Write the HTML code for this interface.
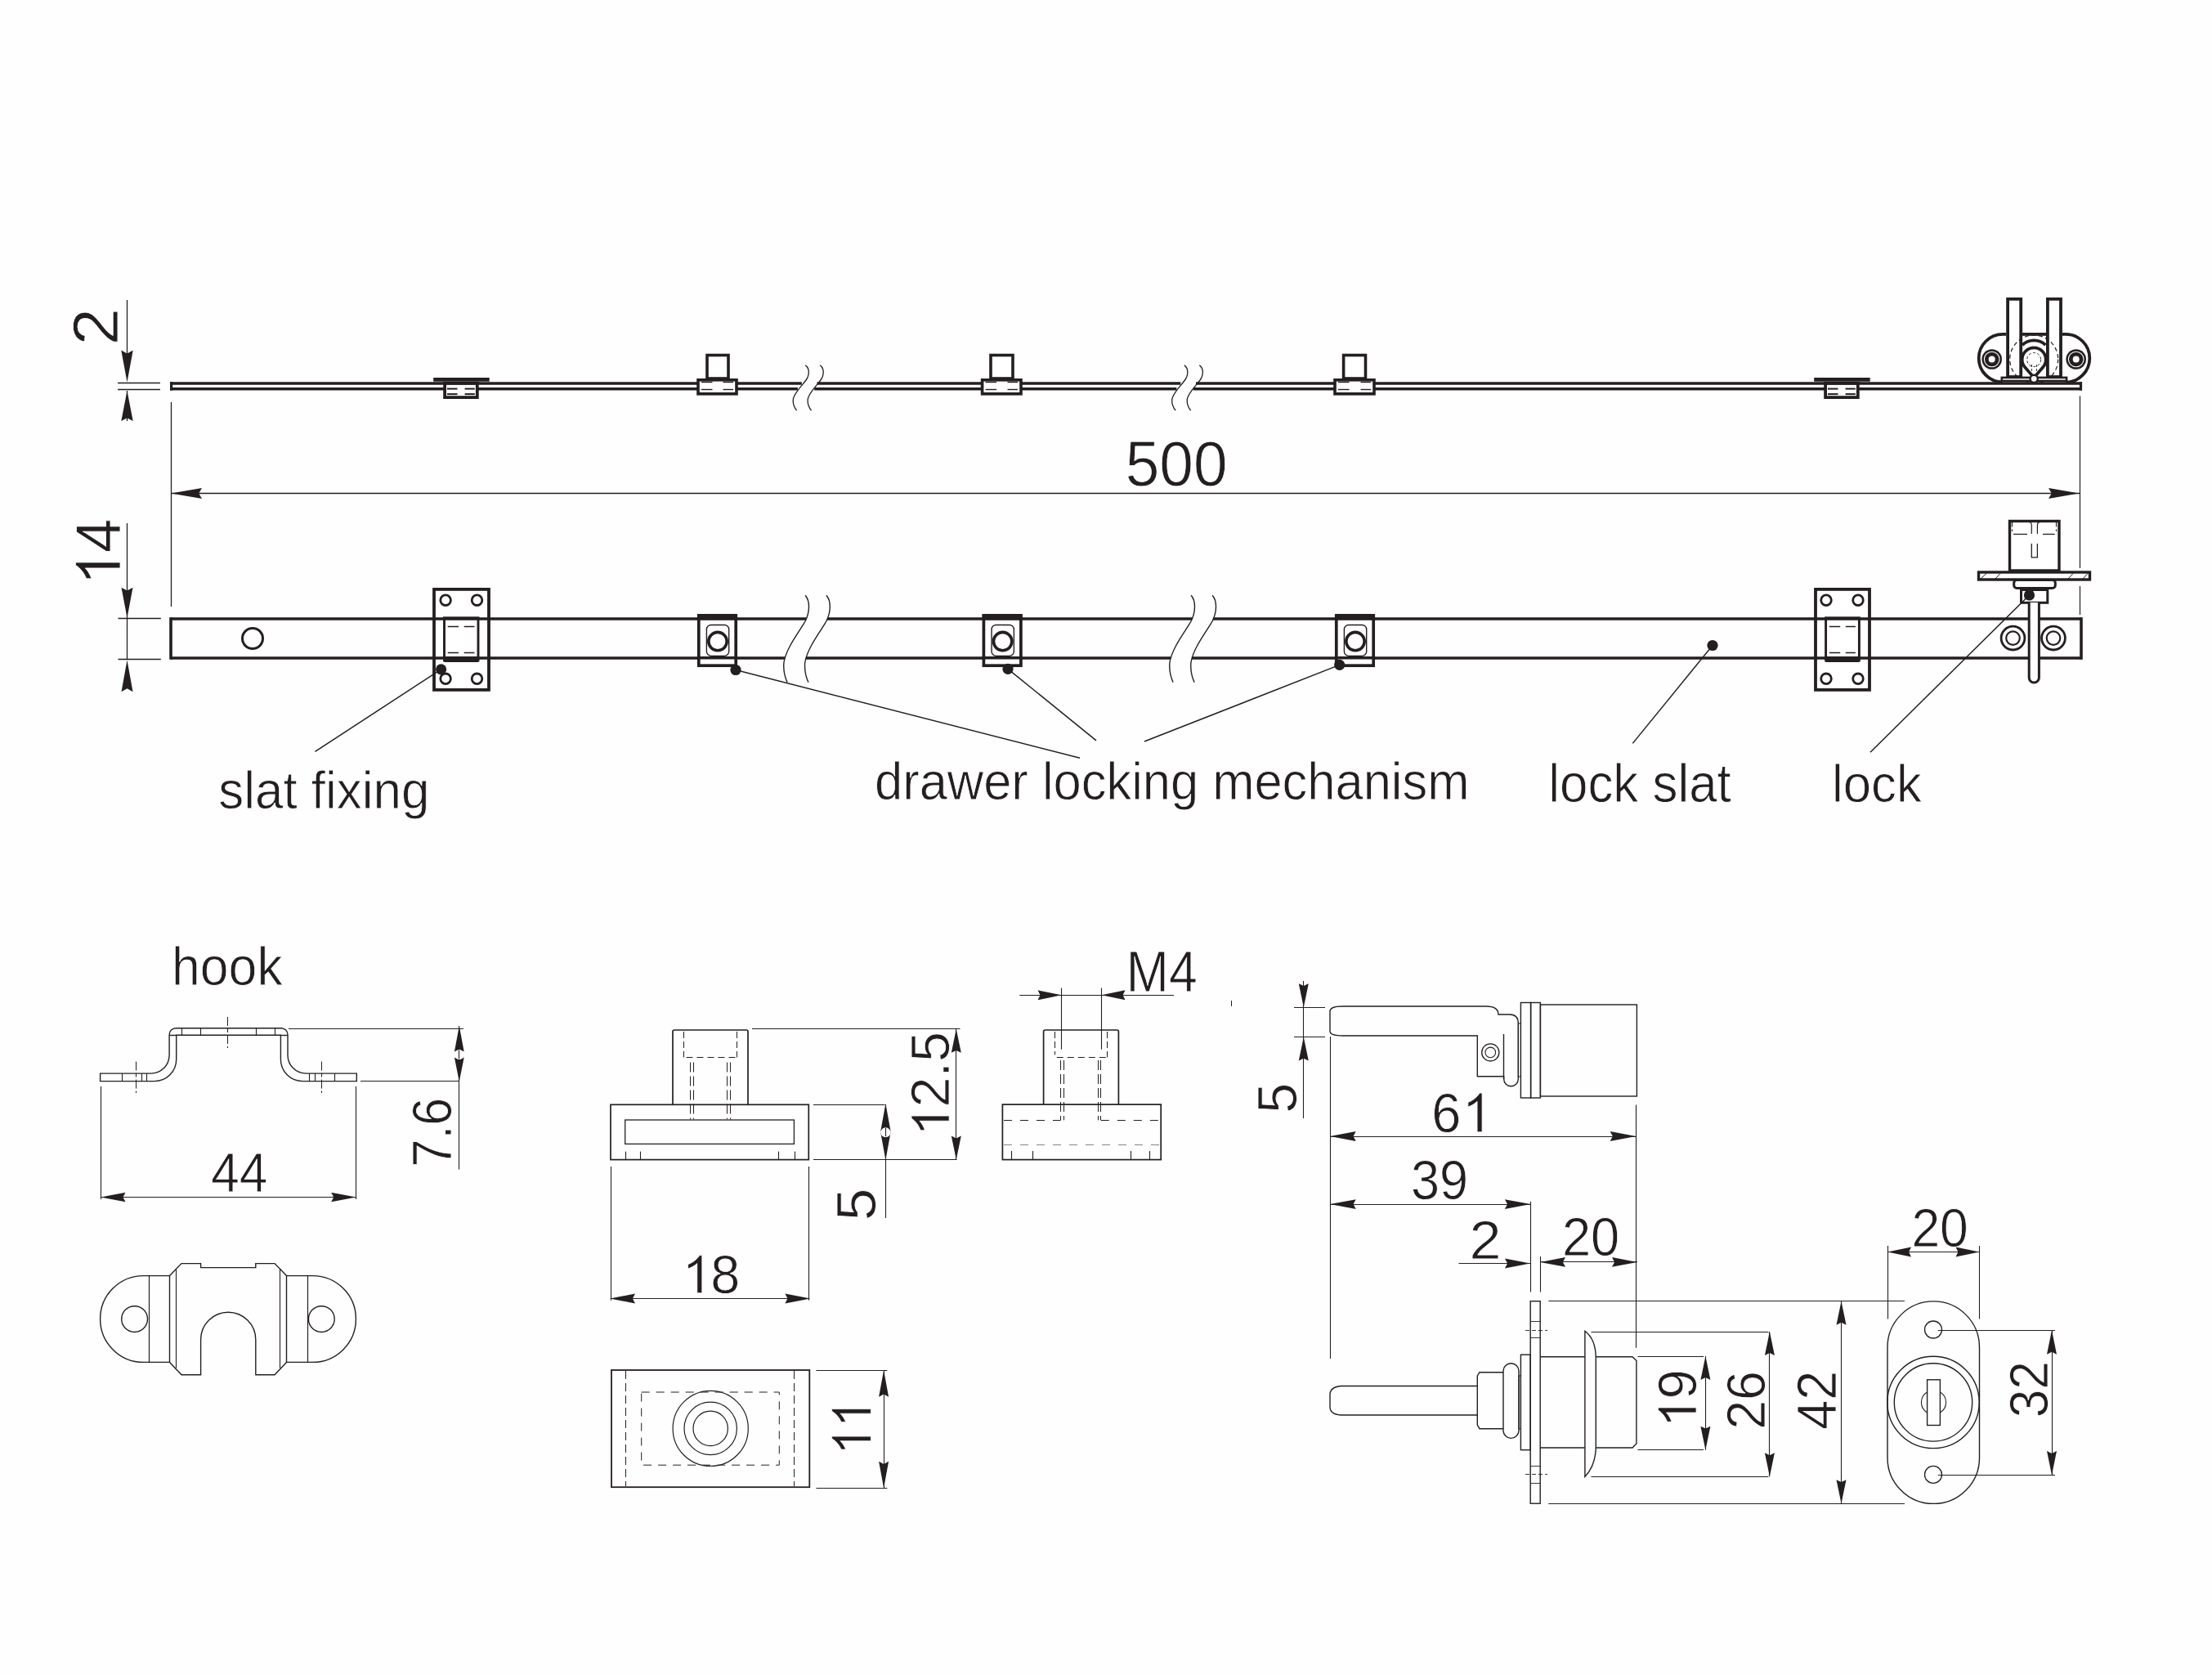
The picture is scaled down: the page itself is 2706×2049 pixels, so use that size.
<!DOCTYPE html>
<html><head><meta charset="utf-8"><style>
html,body{margin:0;padding:0;background:#fefefe;}
svg{display:block;}
text{font-family:"Liberation Sans",sans-serif;fill:#231f20;}
</style></head><body>
<svg width="2706" height="2049" viewBox="0 0 2706 2049" stroke="#231f20" stroke-linecap="butt" fill="none">
<rect x="0" y="0" width="2706" height="2049" fill="#fefefe" stroke="none"/>
<line x1="208" y1="469.0" x2="980.8" y2="469.0" stroke-width="3.6"/>
<line x1="999.5" y1="469.0" x2="1444.3" y2="469.0" stroke-width="3.6"/>
<line x1="1463" y1="469.0" x2="2547" y2="469.0" stroke-width="3.6"/>
<line x1="208" y1="475.8" x2="975.9" y2="475.8" stroke-width="3.6"/>
<line x1="996.2" y1="475.8" x2="1439.4" y2="475.8" stroke-width="3.6"/>
<line x1="1459.7" y1="475.8" x2="2547" y2="475.8" stroke-width="3.6"/>
<line x1="209.6" y1="467.2" x2="209.6" y2="477.6" stroke-width="3.2"/>
<line x1="2545.5" y1="467.2" x2="2545.5" y2="477.6" stroke-width="3.2"/>
<path d="M985.3,446.9 C990,450 991,458 986,465 C981,472 971,481 970.2,489 C970,494 972,499 974.7,502.2" stroke-width="1.3" fill="none" transform="translate(0,0)"/>
<path d="M985.3,446.9 C990,450 991,458 986,465 C981,472 971,481 970.2,489 C970,494 972,499 974.7,502.2" stroke-width="1.3" fill="none" transform="translate(17.9,0)"/>
<path d="M985.3,446.9 C990,450 991,458 986,465 C981,472 971,481 970.2,489 C970,494 972,499 974.7,502.2" stroke-width="1.3" fill="none" transform="translate(463.5,0)"/>
<path d="M985.3,446.9 C990,450 991,458 986,465 C981,472 971,481 970.2,489 C970,494 972,499 974.7,502.2" stroke-width="1.3" fill="none" transform="translate(482.0,0)"/>
<rect x="865" y="434.5" width="26.00" height="28.50" stroke-width="3.6" fill="#fff"/>
<rect x="854" y="464.8" width="47.00" height="17.00" stroke-width="3.6" fill="#fff"/>
<line x1="858" y1="467.5" x2="871.5" y2="467.5" stroke-width="1.4"/>
<line x1="884.5" y1="467.5" x2="897" y2="467.5" stroke-width="1.4"/>
<line x1="858" y1="476.5" x2="871.5" y2="476.5" stroke-width="1.4"/>
<line x1="884.5" y1="476.5" x2="897" y2="476.5" stroke-width="1.4"/>
<rect x="1212" y="434.5" width="27.00" height="28.50" stroke-width="3.6" fill="#fff"/>
<rect x="1201.6" y="464.8" width="47.40" height="17.00" stroke-width="3.6" fill="#fff"/>
<line x1="1205.6" y1="467.5" x2="1219.1" y2="467.5" stroke-width="1.4"/>
<line x1="1232.5" y1="467.5" x2="1245" y2="467.5" stroke-width="1.4"/>
<line x1="1205.6" y1="476.5" x2="1219.1" y2="476.5" stroke-width="1.4"/>
<line x1="1232.5" y1="476.5" x2="1245" y2="476.5" stroke-width="1.4"/>
<rect x="1643.6" y="434.5" width="26.90" height="28.50" stroke-width="3.6" fill="#fff"/>
<rect x="1633" y="464.8" width="48.00" height="17.00" stroke-width="3.6" fill="#fff"/>
<line x1="1637" y1="467.5" x2="1650.5" y2="467.5" stroke-width="1.4"/>
<line x1="1664.5" y1="467.5" x2="1677" y2="467.5" stroke-width="1.4"/>
<line x1="1637" y1="476.5" x2="1650.5" y2="476.5" stroke-width="1.4"/>
<line x1="1664.5" y1="476.5" x2="1677" y2="476.5" stroke-width="1.4"/>
<line x1="530.2" y1="464.3" x2="598.7" y2="464.3" stroke-width="4.7"/>
<rect x="544.1" y="468.8" width="39.70" height="17.30" stroke-width="3.8" fill="#fff"/>
<line x1="542.2" y1="469" x2="585.7" y2="469" stroke-width="3.6"/>
<line x1="547" y1="475.6" x2="559.5" y2="475.6" stroke-width="2.0"/>
<line x1="568.6" y1="475.6" x2="580.8" y2="475.6" stroke-width="2.0"/>
<line x1="547" y1="482.1" x2="559.5" y2="482.1" stroke-width="2.0"/>
<line x1="568.6" y1="482.1" x2="580.8" y2="482.1" stroke-width="2.0"/>
<line x1="2219.2" y1="464.3" x2="2287.7" y2="464.3" stroke-width="4.7"/>
<rect x="2233.1" y="468.8" width="39.70" height="17.30" stroke-width="3.8" fill="#fff"/>
<line x1="2231.2" y1="469" x2="2274.7" y2="469" stroke-width="3.6"/>
<line x1="2236" y1="475.6" x2="2248.5" y2="475.6" stroke-width="2.0"/>
<line x1="2257.6" y1="475.6" x2="2269.8" y2="475.6" stroke-width="2.0"/>
<line x1="2236" y1="482.1" x2="2248.5" y2="482.1" stroke-width="2.0"/>
<line x1="2257.6" y1="482.1" x2="2269.8" y2="482.1" stroke-width="2.0"/>
<circle cx="2488.2" cy="439.5" r="29.5" stroke-width="1.2" fill="none" stroke-dasharray="5,3.5"/>
<path d="M2474,422 A20.9,20.9 0 0 1 2502.4,422" stroke-width="3.8" fill="none"/>
<line x1="2474" y1="408.9" x2="2503" y2="408.9" stroke-width="3.8"/>
<path d="M2488.2,462 L2477.2,449.3 A14.5,14.5 0 1 1 2499.2,449.3 Z" stroke-width="3.7" fill="#fff"/>
<circle cx="2488.2" cy="440" r="8.5" stroke-width="1.0" fill="none" stroke-dasharray="3,2.5"/>
<line x1="2485.5" y1="446" x2="2485.5" y2="458" stroke-width="0.9" stroke-dasharray="3,2"/>
<line x1="2491.5" y1="446" x2="2491.5" y2="458" stroke-width="0.9" stroke-dasharray="3,2"/>
<rect x="2456.1" y="365.8" width="16.10" height="95.20" stroke-width="3.8" fill="none"/>
<rect x="2504.9" y="365.8" width="16.10" height="95.20" stroke-width="3.8" fill="none"/>
<path d="M2454.2,408.9 L2450,408.9 A29.3,29.3 0 0 0 2450,467.5" stroke-width="3.8" fill="none"/>
<path d="M2522.9,408.9 L2527,408.9 A29.3,29.3 0 0 1 2527,467.5" stroke-width="3.8" fill="none"/>
<rect x="2448.8" y="461.9" width="79.30" height="4.10" stroke-width="2.6" fill="#fff"/>
<circle cx="2436.7" cy="439.5" r="12.3" stroke-width="0" fill="#231f20"/>
<circle cx="2436.7" cy="439.5" r="9.3" stroke-width="1.1" fill="none" stroke="#fff"/>
<circle cx="2436.7" cy="439.5" r="4.0" stroke-width="0" fill="#fff"/>
<circle cx="2539.7" cy="439.5" r="12.3" stroke-width="0" fill="#231f20"/>
<circle cx="2539.7" cy="439.5" r="9.3" stroke-width="1.1" fill="none" stroke="#fff"/>
<circle cx="2539.7" cy="439.5" r="4.0" stroke-width="0" fill="#fff"/>
<circle cx="2488.2" cy="463.3" r="4.6" stroke-width="2.4" fill="#fff"/>
<line x1="144" y1="468.5" x2="196" y2="468.5" stroke-width="1.3"/>
<line x1="144" y1="476.5" x2="196" y2="476.5" stroke-width="1.3"/>
<line x1="155.5" y1="367" x2="155.5" y2="440" stroke-width="1.3"/>
<line x1="155.5" y1="478" x2="155.5" y2="515" stroke-width="1.3"/>
<path d="M155.50,467.50 L148.30,428.50 L155.50,432.40 L162.70,428.50 Z" fill="#231f20" stroke="none"/>
<path d="M155.50,478.00 L162.70,515.00 L155.50,511.30 L148.30,515.00 Z" fill="#231f20" stroke="none"/>
<g transform="translate(144.40,422.27) rotate(-90) scale(0.08136,0.07851)"><text x="0" y="0" font-size="1000" stroke="#fefefe" stroke-width="10.2">2</text></g>
<line x1="144.5" y1="756.5" x2="196.8" y2="756.5" stroke-width="1.3"/>
<line x1="144.5" y1="806.5" x2="196.8" y2="806.5" stroke-width="1.3"/>
<line x1="155.5" y1="640" x2="155.5" y2="806" stroke-width="1.3"/>
<path d="M155.50,755.80 L148.50,718.80 L155.50,722.50 L162.50,718.80 Z" fill="#231f20" stroke="none"/>
<path d="M155.50,807.50 L162.50,846.20 L155.50,842.33 L148.50,846.20 Z" fill="#231f20" stroke="none"/>
<g transform="translate(147.00,717.48) rotate(-90) scale(0.07449,0.07786)"><path d="M266,-700 L266,0 L173,0 L173,-549 C130,-507 60,-469 0,-450 L0,-531 C90,-565 170,-622 221,-700 Z" transform="translate(130.0,0)" fill="#231f20" stroke="#fefefe" stroke-width="10.3"/><text x="556.2" y="0" font-size="1000" stroke="#fefefe" stroke-width="10.3">4</text></g>
<line x1="209.5" y1="492" x2="209.5" y2="742" stroke-width="1.3"/>
<line x1="209" y1="603.5" x2="2544" y2="603.5" stroke-width="1.3"/>
<path d="M209.00,603.50 L247.00,596.90 L243.20,603.50 L247.00,610.10 Z" fill="#231f20" stroke="none"/>
<path d="M2544.00,603.50 L2506.00,610.10 L2509.80,603.50 L2506.00,596.90 Z" fill="#231f20" stroke="none"/>
<g transform="translate(1376.71,594.12) scale(0.07483,0.07825)"><text x="0" y="0" font-size="1000" stroke="#fefefe" stroke-width="10.2">500</text></g>
<line x1="209" y1="757" x2="986.3" y2="757" stroke-width="3.6"/>
<line x1="1012" y1="757" x2="1458.3" y2="757" stroke-width="3.6"/>
<line x1="1484" y1="757" x2="2546" y2="757" stroke-width="3.6"/>
<line x1="209" y1="805" x2="960.1" y2="805" stroke-width="3.6"/>
<line x1="985.9" y1="805" x2="1432.1" y2="805" stroke-width="3.6"/>
<line x1="1457.9" y1="805" x2="2546" y2="805" stroke-width="3.6"/>
<line x1="209" y1="755.2" x2="209" y2="806.8" stroke-width="3.6"/>
<line x1="2546" y1="755.2" x2="2546" y2="806.8" stroke-width="3.6"/>
<path d="M985.1,728.2 C991,735 991,748 985,760 C979,771 962,792 959,810 C958,820 960,828 963.1,834.6" stroke-width="1.4" fill="none" transform="translate(0,0)"/>
<path d="M985.1,728.2 C991,735 991,748 985,760 C979,771 962,792 959,810 C958,820 960,828 963.1,834.6" stroke-width="1.4" fill="none" transform="translate(25.8,0)"/>
<path d="M985.1,728.2 C991,735 991,748 985,760 C979,771 962,792 959,810 C958,820 960,828 963.1,834.6" stroke-width="1.4" fill="none" transform="translate(472,0)"/>
<path d="M985.1,728.2 C991,735 991,748 985,760 C979,771 962,792 959,810 C958,820 960,828 963.1,834.6" stroke-width="1.4" fill="none" transform="translate(498,0)"/>
<circle cx="309" cy="781" r="12.5" stroke-width="3.0" fill="none"/>
<rect x="531" y="720.9" width="67.00" height="123.00" stroke-width="3.8" fill="#fff"/>
<line x1="531" y1="757" x2="598" y2="757" stroke-width="3.6"/>
<line x1="531" y1="805" x2="598" y2="805" stroke-width="3.6"/>
<rect x="543.5" y="755.8" width="41.50" height="52.20" stroke-width="2.9" fill="none"/>
<line x1="543.5" y1="806.4" x2="585" y2="806.4" stroke-width="7.0"/>
<line x1="547.7" y1="766.5" x2="561.1" y2="766.5" stroke-width="1.5"/>
<line x1="567.7" y1="766.5" x2="580.5" y2="766.5" stroke-width="1.5"/>
<line x1="547.7" y1="798.5" x2="561.1" y2="798.5" stroke-width="1.5"/>
<line x1="567.7" y1="798.5" x2="580.5" y2="798.5" stroke-width="1.5"/>
<circle cx="545.1" cy="734.2" r="6.3" stroke-width="2.8" fill="none"/>
<circle cx="545.1" cy="830.3" r="6.3" stroke-width="2.8" fill="none"/>
<circle cx="583.5" cy="734.2" r="6.3" stroke-width="2.8" fill="none"/>
<circle cx="583.5" cy="830.3" r="6.3" stroke-width="2.8" fill="none"/>
<rect x="2221" y="720.9" width="66.00" height="123.00" stroke-width="3.8" fill="#fff"/>
<line x1="2221" y1="757" x2="2287" y2="757" stroke-width="3.6"/>
<line x1="2221" y1="805" x2="2287" y2="805" stroke-width="3.6"/>
<rect x="2233.6" y="755.8" width="40.80" height="52.20" stroke-width="2.9" fill="none"/>
<line x1="2233.6" y1="806.4" x2="2274.4" y2="806.4" stroke-width="7.0"/>
<line x1="2237.7999999999997" y1="766.5" x2="2251.2" y2="766.5" stroke-width="1.5"/>
<line x1="2257.7999999999997" y1="766.5" x2="2269.9" y2="766.5" stroke-width="1.5"/>
<line x1="2237.7999999999997" y1="798.5" x2="2251.2" y2="798.5" stroke-width="1.5"/>
<line x1="2257.7999999999997" y1="798.5" x2="2269.9" y2="798.5" stroke-width="1.5"/>
<circle cx="2234" cy="734.2" r="6.3" stroke-width="2.8" fill="none"/>
<circle cx="2234" cy="830.3" r="6.3" stroke-width="2.8" fill="none"/>
<circle cx="2273" cy="734.2" r="6.3" stroke-width="2.8" fill="none"/>
<circle cx="2273" cy="830.3" r="6.3" stroke-width="2.8" fill="none"/>
<rect x="854.8" y="753.5" width="45.40" height="60.70" stroke-width="3.7" fill="#fff"/>
<rect x="852.95" y="751" width="49.10" height="7.8" fill="#231f20" stroke="none"/>
<line x1="853" y1="804.7" x2="902" y2="804.7" stroke-width="3.6"/>
<rect x="864.4" y="764.5" width="27.3" height="37.9" rx="5.5" stroke-width="1.4" fill="none"/>
<circle cx="878.0" cy="784.6" r="11.2" stroke-width="3.6" fill="none"/>
<rect x="1203.3999999999999" y="753.5" width="45.50" height="60.70" stroke-width="3.7" fill="#fff"/>
<rect x="1201.55" y="751" width="49.20" height="7.8" fill="#231f20" stroke="none"/>
<line x1="1201.6" y1="804.7" x2="1250.7" y2="804.7" stroke-width="3.6"/>
<rect x="1213.0500000000002" y="764.5" width="27.3" height="37.9" rx="5.5" stroke-width="1.4" fill="none"/>
<circle cx="1226.65" cy="784.6" r="11.2" stroke-width="3.6" fill="none"/>
<rect x="1634.8" y="753.5" width="45.40" height="60.70" stroke-width="3.7" fill="#fff"/>
<rect x="1632.95" y="751" width="49.10" height="7.8" fill="#231f20" stroke="none"/>
<line x1="1633" y1="804.7" x2="1682" y2="804.7" stroke-width="3.6"/>
<rect x="1644.4" y="764.5" width="27.3" height="37.9" rx="5.5" stroke-width="1.4" fill="none"/>
<circle cx="1658.0" cy="784.6" r="11.2" stroke-width="3.6" fill="none"/>
<circle cx="2462.5" cy="780.6" r="14.4" stroke-width="2.8" fill="none"/>
<circle cx="2462.5" cy="780.6" r="8.3" stroke-width="2.2" fill="none"/>
<circle cx="2512" cy="780.6" r="14.4" stroke-width="2.8" fill="none"/>
<circle cx="2512" cy="780.6" r="8.3" stroke-width="2.2" fill="none"/>
<rect x="2458.5" y="637.5" width="60.50" height="60.50" stroke-width="3.4" fill="#fff"/>
<line x1="2461.5" y1="638.5" x2="2461.5" y2="650" stroke-width="1.1" stroke-dasharray="6,3"/>
<line x1="2515.5" y1="638.5" x2="2515.5" y2="650" stroke-width="1.1" stroke-dasharray="6,3"/>
<line x1="2463" y1="653.5" x2="2480" y2="653.5" stroke-width="1.3"/>
<line x1="2499" y1="653.5" x2="2513.7" y2="653.5" stroke-width="1.3"/>
<path d="M2485.3,653 L2485.3,642 Q2485.3,639 2482,638.5 M2492.4,653 L2492.4,642 Q2492.4,639 2495.5,638.5" stroke-width="1.2" fill="none"/>
<path d="M2485.3,665 L2485.3,681.8 L2492.4,681.8 L2492.4,665" stroke-width="1.3" fill="none"/>
<rect x="2420.5" y="700" width="136.00" height="9.00" stroke-width="3.4" fill="#fff"/>
<line x1="2423" y1="708" x2="2430" y2="701.5" stroke-width="1.0"/>
<line x1="2441" y1="708" x2="2447" y2="701.5" stroke-width="1.0"/>
<line x1="2530" y1="708" x2="2536" y2="701.5" stroke-width="1.0"/>
<line x1="2548" y1="708" x2="2554" y2="701.5" stroke-width="1.0"/>
<rect x="2463.7" y="709.5" width="50.6" height="10" rx="3.5" stroke-width="3.0" fill="#fff"/>
<rect x="2472.5" y="721.5" width="32.30" height="15.80" stroke-width="3.0" fill="#fff"/>
<path d="M2482.2,737 L2482.2,829 A6.1,6.1 0 0 0 2494.4,829 L2494.4,737" stroke-width="3.0" fill="#fff"/>
<line x1="2544.5" y1="484.5" x2="2544.5" y2="695" stroke-width="1.2"/>
<line x1="2544.5" y1="717" x2="2544.5" y2="752" stroke-width="1.2"/>
<line x1="539.6" y1="818.8" x2="385.5" y2="919.3" stroke-width="1.5"/>
<circle cx="539.6" cy="818.8" r="6.6" fill="#231f20" stroke="none"/>
<line x1="900" y1="819.5" x2="1321" y2="927.3" stroke-width="1.5"/>
<circle cx="900" cy="819.5" r="6.6" fill="#231f20" stroke="none"/>
<line x1="1233" y1="818.3" x2="1341" y2="905.8" stroke-width="1.5"/>
<circle cx="1233" cy="818.3" r="6.6" fill="#231f20" stroke="none"/>
<line x1="1638.7" y1="813.4" x2="1400" y2="907" stroke-width="1.5"/>
<circle cx="1638.7" cy="813.4" r="6.6" fill="#231f20" stroke="none"/>
<line x1="2095" y1="789.5" x2="1997.3" y2="909.4" stroke-width="1.5"/>
<circle cx="2095" cy="789.5" r="6.6" fill="#231f20" stroke="none"/>
<line x1="2482.5" y1="728" x2="2288" y2="920.2" stroke-width="1.5"/>
<circle cx="2482.5" cy="728" r="6.6" fill="#231f20" stroke="none"/>
<g transform="translate(267.27,988.80) scale(0.06192,0.06510)"><text x="0" y="0" font-size="1000" stroke="#fefefe" stroke-width="12.3">slat fixing</text></g>
<g transform="translate(1070.02,978.00) scale(0.06145,0.06538)"><text x="0" y="0" font-size="1000" stroke="#fefefe" stroke-width="12.2">drawer locking mechanism</text></g>
<g transform="translate(1894.25,980.70) scale(0.06190,0.06607)"><text x="0" y="0" font-size="1000" stroke="#fefefe" stroke-width="12.1">lock slat</text></g>
<g transform="translate(2240.96,981.00) scale(0.06174,0.06400)"><text x="0" y="0" font-size="1000" stroke="#fefefe" stroke-width="12.5">lock</text></g>
<g transform="translate(210.09,1204.60) scale(0.06252,0.06621)"><text x="0" y="0" font-size="1000" stroke="#fefefe" stroke-width="12.1">hook</text></g>
<path d="M122.6,1313.1 L184.7,1313.1 A22.4,22.4 0 0 0 207.1,1290.7 L207.1,1265.8 A8.1,8.1 0 0 1 215.2,1257.7 L343.9,1257.7 A8.1,8.1 0 0 1 352,1265.8 L352,1290.7 A22.4,22.4 0 0 0 374.4,1313.1 L436.3,1313.1 L436.3,1322.6 L370,1322.6 A26.6,26.6 0 0 1 343.4,1296 L343.4,1266.3 L215.7,1266.3 L215.7,1296 A26.6,26.6 0 0 1 189.1,1322.6 L122.6,1322.6 Z" stroke-width="1.4" fill="none"/>
<line x1="207.1" y1="1266.5" x2="215.7" y2="1266.5" stroke-width="1.4"/>
<line x1="343.4" y1="1266.5" x2="352" y2="1266.5" stroke-width="1.4"/>
<line x1="149.5" y1="1313.1" x2="149.5" y2="1322.6" stroke-width="1.1"/>
<line x1="173.5" y1="1313.1" x2="173.5" y2="1322.6" stroke-width="1.1"/>
<line x1="179.5" y1="1313.1" x2="179.5" y2="1322.6" stroke-width="1.1"/>
<line x1="378.5" y1="1313.1" x2="378.5" y2="1322.6" stroke-width="1.1"/>
<line x1="385.5" y1="1313.1" x2="385.5" y2="1322.6" stroke-width="1.1"/>
<line x1="409.5" y1="1313.1" x2="409.5" y2="1322.6" stroke-width="1.1"/>
<line x1="222.5" y1="1257.7" x2="222.5" y2="1266.3" stroke-width="1.1"/>
<line x1="245.5" y1="1257.7" x2="245.5" y2="1266.3" stroke-width="1.1"/>
<line x1="313.5" y1="1257.7" x2="313.5" y2="1266.3" stroke-width="1.1"/>
<line x1="336.5" y1="1257.7" x2="336.5" y2="1266.3" stroke-width="1.1"/>
<line x1="278.5" y1="1244" x2="278.5" y2="1282" stroke-width="1.0" stroke-dasharray="11,3,5,3"/>
<line x1="166.5" y1="1298.6" x2="166.5" y2="1337" stroke-width="1.0" stroke-dasharray="11,3,5,3"/>
<line x1="393.5" y1="1298.6" x2="393.5" y2="1337" stroke-width="1.0" stroke-dasharray="11,3,5,3"/>
<line x1="123.5" y1="1329" x2="123.5" y2="1467" stroke-width="1.1"/>
<line x1="435.5" y1="1329" x2="435.5" y2="1467" stroke-width="1.1"/>
<line x1="123" y1="1464.5" x2="435.7" y2="1464.5" stroke-width="1.1"/>
<path d="M123.00,1464.50 L153.50,1458.70 L150.45,1464.50 L153.50,1470.30 Z" fill="#231f20" stroke="none"/>
<path d="M435.70,1464.50 L405.20,1470.30 L408.25,1464.50 L405.20,1458.70 Z" fill="#231f20" stroke="none"/>
<g transform="translate(258.17,1458.20) scale(0.06208,0.06860)"><text x="0" y="0" font-size="1000" stroke="#fefefe" stroke-width="11.7">44</text></g>
<line x1="353" y1="1258.5" x2="567" y2="1258.5" stroke-width="1.1"/>
<line x1="441" y1="1322.5" x2="562" y2="1322.5" stroke-width="1.1"/>
<line x1="561.5" y1="1255" x2="561.5" y2="1430.6" stroke-width="1.1"/>
<path d="M561.80,1255.00 L567.70,1286.60 L561.80,1283.44 L555.90,1286.60 Z" fill="#231f20" stroke="none"/>
<path d="M561.80,1323.00 L555.90,1293.50 L561.80,1296.45 L567.70,1293.50 Z" fill="#231f20" stroke="none"/>
<circle cx="561.8" cy="1290.2" r="5.8" stroke-width="0" fill="#fefefe"/>
<line x1="561.5" y1="1285" x2="561.5" y2="1295.4" stroke-width="1.1"/>
<g transform="translate(551.72,1427.40) rotate(-90) scale(0.06085,0.06808)"><text x="0" y="0" font-size="1000" stroke="#fefefe" stroke-width="11.8">7.6</text></g>
<path d="M207.6,1560.6 L175.5,1560.6 A52.9,52.9 0 0 0 175.5,1666.4 L207.6,1666.4 L222,1681.7 L245.6,1681.7 L245.6,1638.8 A33.6,33.6 0 0 1 312.8,1638.8 L312.8,1681.7 L336,1681.7 L350.5,1666.4 L382.5,1666.4 A52.9,52.9 0 0 0 382.5,1560.6 L350.5,1560.6 L336,1545.6 L312.8,1545.6 L312.8,1550.6 L245.6,1550.6 L245.6,1545.6 L222,1545.6 Z" stroke-width="1.4" fill="none"/>
<line x1="182.5" y1="1560.6" x2="182.5" y2="1666.4" stroke-width="1.2"/>
<line x1="207.5" y1="1560.6" x2="207.5" y2="1666.4" stroke-width="1.4"/>
<line x1="215.5" y1="1553" x2="215.5" y2="1673.5" stroke-width="1.1"/>
<line x1="342.5" y1="1553" x2="342.5" y2="1673.5" stroke-width="1.1"/>
<line x1="350.5" y1="1560.6" x2="350.5" y2="1666.4" stroke-width="1.4"/>
<line x1="376.5" y1="1560.6" x2="376.5" y2="1666.4" stroke-width="1.2"/>
<circle cx="164.6" cy="1613.6" r="15.9" stroke-width="1.4" fill="none"/>
<circle cx="393.3" cy="1613.6" r="15.9" stroke-width="1.4" fill="none"/>
<path d="M823,1351.3 L823,1262 Q823,1260 825,1260 L913,1260 Q915,1260 915,1262 L915,1351.3" stroke-width="1.7" fill="none"/>
<line x1="836.5" y1="1262" x2="836.5" y2="1293.5" stroke-width="1.0" stroke-dasharray="8,4"/>
<line x1="901.5" y1="1262" x2="901.5" y2="1293.5" stroke-width="1.0" stroke-dasharray="8,4"/>
<line x1="839.5" y1="1293.5" x2="901.3" y2="1293.5" stroke-width="1.0" stroke-dasharray="8,5"/>
<line x1="844.5" y1="1299.5" x2="844.5" y2="1369" stroke-width="1.0" stroke-dasharray="12,5"/>
<line x1="848.5" y1="1299.5" x2="848.5" y2="1369" stroke-width="1.0" stroke-dasharray="12,5"/>
<line x1="889.5" y1="1299.5" x2="889.5" y2="1369" stroke-width="1.0" stroke-dasharray="12,5"/>
<line x1="893.5" y1="1299.5" x2="893.5" y2="1369" stroke-width="1.0" stroke-dasharray="12,5"/>
<rect x="747" y="1351.3" width="242.30" height="67.30" stroke-width="1.7" fill="none"/>
<rect x="764.7" y="1370" width="206.70" height="29.40" stroke-width="1.3" fill="none"/>
<line x1="765.5" y1="1408.6" x2="765.5" y2="1418.6" stroke-width="1.1"/>
<line x1="783.5" y1="1408.6" x2="783.5" y2="1418.6" stroke-width="1.1"/>
<line x1="952.5" y1="1408.6" x2="952.5" y2="1418.6" stroke-width="1.1"/>
<line x1="972.5" y1="1408.6" x2="972.5" y2="1418.6" stroke-width="1.1"/>
<line x1="920" y1="1258.5" x2="1174.5" y2="1258.5" stroke-width="1.1"/>
<line x1="995" y1="1418.5" x2="1170.6" y2="1418.5" stroke-width="1.1"/>
<line x1="1169.5" y1="1258.8" x2="1169.5" y2="1418.6" stroke-width="1.1"/>
<path d="M1169.80,1258.80 L1175.80,1287.80 L1169.80,1284.90 L1163.80,1287.80 Z" fill="#231f20" stroke="none"/>
<path d="M1169.80,1418.60 L1163.80,1389.60 L1169.80,1392.50 L1175.80,1389.60 Z" fill="#231f20" stroke="none"/>
<g transform="translate(1161.14,1391.32) rotate(-90) scale(0.06634,0.06592)"><path d="M266,-700 L266,0 L173,0 L173,-549 C130,-507 60,-469 0,-450 L0,-531 C90,-565 170,-622 221,-700 Z" transform="translate(130.0,0)" fill="#231f20" stroke="#fefefe" stroke-width="12.1"/><text x="556.2" y="0" font-size="1000" stroke="#fefefe" stroke-width="12.1">2</text><text x="1112.3" y="0" font-size="1000" stroke="#fefefe" stroke-width="12.1">.</text><text x="1390.1" y="0" font-size="1000" stroke="#fefefe" stroke-width="12.1">5</text></g>
<line x1="995" y1="1351.5" x2="1082.6" y2="1351.5" stroke-width="1.1"/>
<line x1="1083.5" y1="1351" x2="1083.5" y2="1490" stroke-width="1.1"/>
<path d="M1083.40,1350.00 L1089.60,1384.00 L1083.40,1380.60 L1077.20,1384.00 Z" fill="#231f20" stroke="none"/>
<path d="M1083.40,1419.00 L1077.20,1385.00 L1083.40,1388.40 L1089.60,1385.00 Z" fill="#231f20" stroke="none"/>
<circle cx="1083.4" cy="1385.2" r="6" stroke-width="0" fill="#fefefe"/>
<line x1="1083.5" y1="1379.8" x2="1083.5" y2="1390.2" stroke-width="1.1"/>
<g transform="translate(1070.51,1493.25) rotate(-90) scale(0.07131,0.06891)"><text x="0" y="0" font-size="1000" stroke="#fefefe" stroke-width="11.6">5</text></g>
<line x1="747.5" y1="1427" x2="747.5" y2="1590.7" stroke-width="1.1"/>
<line x1="989.5" y1="1427" x2="989.5" y2="1590.7" stroke-width="1.1"/>
<line x1="747.6" y1="1588.5" x2="989.8" y2="1588.5" stroke-width="1.1"/>
<path d="M746.00,1588.50 L777.00,1582.50 L773.90,1588.50 L777.00,1594.50 Z" fill="#231f20" stroke="none"/>
<path d="M991.40,1588.50 L960.40,1594.50 L963.50,1588.50 L960.40,1582.50 Z" fill="#231f20" stroke="none"/>
<g transform="translate(833.18,1581.74) scale(0.06474,0.06592)"><path d="M266,-700 L266,0 L173,0 L173,-549 C130,-507 60,-469 0,-450 L0,-531 C90,-565 170,-622 221,-700 Z" transform="translate(130.0,0)" fill="#231f20" stroke="#fefefe" stroke-width="12.1"/><text x="556.2" y="0" font-size="1000" stroke="#fefefe" stroke-width="12.1">8</text></g>
<path d="M1276.6,1351.1 L1276.6,1262 Q1276.6,1260 1278.6,1260 L1366.4,1260 Q1368.4,1260 1368.4,1262 L1368.4,1351.1" stroke-width="1.7" fill="none"/>
<rect x="1226.4" y="1351.1" width="193.80" height="67.50" stroke-width="1.7" fill="none"/>
<line x1="1290.5" y1="1262" x2="1290.5" y2="1290.4" stroke-width="1.0" stroke-dasharray="8,4"/>
<line x1="1354.5" y1="1262" x2="1354.5" y2="1293.4" stroke-width="1.0" stroke-dasharray="8,4"/>
<line x1="1292.8" y1="1293.5" x2="1354.7" y2="1293.5" stroke-width="1.0" stroke-dasharray="8,5"/>
<line x1="1297.5" y1="1297" x2="1297.5" y2="1370.3" stroke-width="1.0" stroke-dasharray="12,5"/>
<line x1="1301.5" y1="1297" x2="1301.5" y2="1370.3" stroke-width="1.0" stroke-dasharray="12,5"/>
<line x1="1343.5" y1="1297" x2="1343.5" y2="1370.3" stroke-width="1.0" stroke-dasharray="12,5"/>
<line x1="1346.5" y1="1297" x2="1346.5" y2="1370.3" stroke-width="1.0" stroke-dasharray="12,5"/>
<line x1="1228" y1="1370.5" x2="1297.5" y2="1370.5" stroke-width="1.0" stroke-dasharray="10,10"/>
<line x1="1346.8" y1="1370.5" x2="1418" y2="1370.5" stroke-width="1.0" stroke-dasharray="10,10"/>
<line x1="1228" y1="1400.5" x2="1418" y2="1400.5" stroke-width="1.0" stroke-dasharray="10,10" opacity="0.55"/>
<line x1="1237.5" y1="1408" x2="1237.5" y2="1418.6" stroke-width="1.1"/>
<line x1="1263.5" y1="1408" x2="1263.5" y2="1418.6" stroke-width="1.1"/>
<line x1="1383.5" y1="1408" x2="1383.5" y2="1418.6" stroke-width="1.1"/>
<line x1="1406.5" y1="1408" x2="1406.5" y2="1418.6" stroke-width="1.1"/>
<line x1="1298.5" y1="1208.5" x2="1298.5" y2="1283.7" stroke-width="1.1"/>
<line x1="1347.5" y1="1208.5" x2="1347.5" y2="1283.7" stroke-width="1.1"/>
<line x1="1247.3" y1="1217.5" x2="1436" y2="1217.5" stroke-width="1.1"/>
<path d="M1298.60,1217.30 L1269.60,1223.30 L1272.50,1217.30 L1269.60,1211.30 Z" fill="#231f20" stroke="none"/>
<path d="M1347.50,1217.30 L1376.50,1211.30 L1373.60,1217.30 L1376.50,1223.30 Z" fill="#231f20" stroke="none"/>
<g transform="translate(1377.87,1212.60) scale(0.06252,0.06977)"><text x="0" y="0" font-size="1000" stroke="#fefefe" stroke-width="11.5">M4</text></g>
<line x1="1506.5" y1="1224" x2="1506.5" y2="1231" stroke-width="1.0"/>
<rect x="748" y="1676" width="242.30" height="143.20" stroke-width="1.8" fill="none"/>
<line x1="765.5" y1="1677" x2="765.5" y2="1818" stroke-width="1.0" stroke-dasharray="10,5"/>
<line x1="971.5" y1="1677" x2="971.5" y2="1818" stroke-width="1.0" stroke-dasharray="10,5"/>
<rect x="784.7" y="1703" width="168.60" height="89.20" stroke-width="1.0" fill="none" stroke-dasharray="10,8"/>
<circle cx="869.2" cy="1747.4" r="46.1" stroke-width="1.2" fill="none"/>
<circle cx="869.2" cy="1747.4" r="32.2" stroke-width="1.2" fill="none"/>
<circle cx="869.2" cy="1747.4" r="21.2" stroke-width="1.2" fill="none"/>
<line x1="998.5" y1="1676.5" x2="1085.3" y2="1676.5" stroke-width="1.1"/>
<line x1="998.5" y1="1820.5" x2="1085.3" y2="1820.5" stroke-width="1.1"/>
<line x1="1081.5" y1="1676.3" x2="1081.5" y2="1820.3" stroke-width="1.1"/>
<path d="M1081.10,1676.30 L1087.10,1708.80 L1081.10,1705.55 L1075.10,1708.80 Z" fill="#231f20" stroke="none"/>
<path d="M1081.10,1820.30 L1075.10,1787.80 L1081.10,1791.05 L1087.10,1787.80 Z" fill="#231f20" stroke="none"/>
<g transform="translate(1065.40,1780.93) rotate(-90) scale(0.06021,0.06829)"><path d="M266,-700 L266,0 L173,0 L173,-549 C130,-507 60,-469 0,-450 L0,-531 C90,-565 170,-622 221,-700 Z" transform="translate(130.0,0)" fill="#231f20" stroke="#fefefe" stroke-width="11.7"/><path d="M266,-700 L266,0 L173,0 L173,-549 C130,-507 60,-469 0,-450 L0,-531 C90,-565 170,-622 221,-700 Z" transform="translate(686.2,0)" fill="#231f20" stroke="#fefefe" stroke-width="11.7"/></g>
<path d="M1642,1231 L1818,1231 Q1833,1231 1833,1241 L1847,1241 Q1857.3,1241 1857.3,1252 L1857.3,1320 A8.8,8.8 0 0 1 1839.7,1320 L1839.7,1316.8 L1807.3,1316.8 L1807.3,1267 L1643,1267 C1633,1267 1627,1265 1627,1261.5 L1627,1237.3 C1627,1233 1633,1231 1642,1231 Z" stroke-width="1.4" fill="none"/>
<line x1="1839.5" y1="1265" x2="1839.5" y2="1320" stroke-width="1.4"/>
<circle cx="1823.3" cy="1287.4" r="10.6" stroke-width="1.3" fill="none"/>
<circle cx="1823.3" cy="1287.4" r="6.3" stroke-width="1.1" fill="none"/>
<rect x="1857.3" y="1252" width="3.10" height="65.00" stroke-width="1.0" fill="none"/>
<rect x="1860.4" y="1226.5" width="12.20" height="116.50" stroke-width="1.4" fill="none"/>
<rect x="1872.6" y="1226.5" width="11.80" height="116.50" stroke-width="1.4" fill="none"/>
<rect x="1884.4" y="1229" width="118.00" height="112.00" stroke-width="1.4" fill="none"/>
<line x1="1583" y1="1232.5" x2="1621" y2="1232.5" stroke-width="1.1"/>
<line x1="1583" y1="1268.5" x2="1621" y2="1268.5" stroke-width="1.1"/>
<line x1="1594.5" y1="1200" x2="1594.5" y2="1368" stroke-width="1.1"/>
<path d="M1594.80,1232.20 L1588.80,1203.20 L1594.80,1206.10 L1600.80,1203.20 Z" fill="#231f20" stroke="none"/>
<path d="M1594.80,1268.60 L1600.80,1297.60 L1594.80,1294.70 L1588.80,1297.60 Z" fill="#231f20" stroke="none"/>
<g transform="translate(1585.52,1361.76) rotate(-90) scale(0.06646,0.06848)"><text x="0" y="0" font-size="1000" stroke="#fefefe" stroke-width="11.7">5</text></g>
<line x1="1627.5" y1="1268" x2="1627.5" y2="1662" stroke-width="1.1"/>
<line x1="2001.5" y1="1351.6" x2="2001.5" y2="1648.7" stroke-width="1.1"/>
<line x1="1627" y1="1390.5" x2="2001.4" y2="1390.5" stroke-width="1.1"/>
<path d="M1627.00,1390.00 L1658.70,1384.10 L1655.53,1390.00 L1658.70,1395.90 Z" fill="#231f20" stroke="none"/>
<path d="M2001.40,1390.00 L1969.70,1395.90 L1972.87,1390.00 L1969.70,1384.10 Z" fill="#231f20" stroke="none"/>
<g transform="translate(1751.29,1384.72) scale(0.06492,0.06803)"><text x="0.0" y="0" font-size="1000" stroke="#fefefe" stroke-width="11.8">6</text><path d="M266,-700 L266,0 L173,0 L173,-549 C130,-507 60,-469 0,-450 L0,-531 C90,-565 170,-622 221,-700 Z" transform="translate(686.2,0)" fill="#231f20" stroke="#fefefe" stroke-width="11.8"/></g>
<line x1="1627" y1="1473.5" x2="1872.6" y2="1473.5" stroke-width="1.1"/>
<line x1="1872.5" y1="1470" x2="1872.5" y2="1580.6" stroke-width="1.1"/>
<path d="M1627.00,1473.10 L1658.70,1467.20 L1655.53,1473.10 L1658.70,1479.00 Z" fill="#231f20" stroke="none"/>
<path d="M1872.60,1473.10 L1840.90,1479.00 L1844.07,1473.10 L1840.90,1467.20 Z" fill="#231f20" stroke="none"/>
<g transform="translate(1725.90,1467.02) scale(0.06310,0.06822)"><text x="0" y="0" font-size="1000" stroke="#fefefe" stroke-width="11.7">39</text></g>
<line x1="1784.5" y1="1545.5" x2="1872" y2="1545.5" stroke-width="1.1"/>
<path d="M1872.00,1545.50 L1841.00,1551.40 L1844.10,1545.50 L1841.00,1539.60 Z" fill="#231f20" stroke="none"/>
<g transform="translate(1797.49,1540.10) scale(0.07018,0.06691)"><text x="0" y="0" font-size="1000" stroke="#fefefe" stroke-width="12.0">2</text></g>
<line x1="1884.5" y1="1537" x2="1884.5" y2="1580.6" stroke-width="1.1"/>
<line x1="1884" y1="1543.5" x2="2003" y2="1543.5" stroke-width="1.1"/>
<path d="M1884.00,1543.90 L1915.00,1538.00 L1911.90,1543.90 L1915.00,1549.80 Z" fill="#231f20" stroke="none"/>
<path d="M2003.00,1543.90 L1972.00,1549.80 L1975.10,1543.90 L1972.00,1538.00 Z" fill="#231f20" stroke="none"/>
<g transform="translate(1910.94,1535.72) scale(0.06325,0.06751)"><text x="0" y="0" font-size="1000" stroke="#fefefe" stroke-width="11.8">20</text></g>
<path d="M1807.3,1695.5 L1640,1695.5 Q1627,1697 1627,1706 L1627,1721 Q1627,1730 1640,1731 L1807.3,1731" stroke-width="1.4" fill="none"/>
<path d="M1839,1678.7 L1810,1678.7 L1807.3,1683 L1807.3,1743 L1810,1747.7 L1839,1747.7" stroke-width="1.4" fill="none"/>
<rect x="1839" y="1667.7" width="19" height="91.7" rx="9.5" stroke-width="1.4" fill="none"/>
<rect x="1858" y="1683" width="2.40" height="65.00" stroke-width="1.0" fill="none"/>
<rect x="1860.4" y="1657.2" width="11.80" height="116.50" stroke-width="1.4" fill="none"/>
<rect x="1872.2" y="1591.7" width="12.00" height="247.50" stroke-width="1.4" fill="none"/>
<line x1="1872.2" y1="1616.5" x2="1884.2" y2="1616.5" stroke-width="0.9"/>
<line x1="1872.2" y1="1636.5" x2="1884.2" y2="1636.5" stroke-width="0.9"/>
<line x1="1872.2" y1="1793.5" x2="1884.2" y2="1793.5" stroke-width="0.9"/>
<line x1="1872.2" y1="1814.5" x2="1884.2" y2="1814.5" stroke-width="0.9"/>
<line x1="1866" y1="1627.5" x2="1893" y2="1627.5" stroke-width="0.9" stroke-dasharray="5,3"/>
<line x1="1866" y1="1803.5" x2="1893" y2="1803.5" stroke-width="0.9" stroke-dasharray="5,3"/>
<path d="M1884.2,1659.7 L1938.6,1659.7 M1884.2,1771 L1938.6,1771" stroke-width="1.4" fill="none"/>
<path d="M1938.9,1628.3 C1948,1635 1952.3,1648 1952.3,1662 L1952.3,1769 C1952.3,1783 1948,1797 1938.9,1806.4 Z" stroke-width="1.4" fill="none"/>
<path d="M1952.2,1659.7 L1997,1659.7 L2001.9,1664.5 L2001.9,1766 L1997,1771 L1952.2,1771" stroke-width="1.4" fill="none"/>
<line x1="2003.5" y1="1659.5" x2="2084" y2="1659.5" stroke-width="1.1"/>
<line x1="2003.5" y1="1773.5" x2="2084" y2="1773.5" stroke-width="1.1"/>
<line x1="2086.5" y1="1659" x2="2086.5" y2="1773.7" stroke-width="1.1"/>
<path d="M2086.40,1659.00 L2092.40,1688.00 L2086.40,1685.10 L2080.40,1688.00 Z" fill="#231f20" stroke="none"/>
<path d="M2086.40,1773.70 L2080.40,1744.70 L2086.40,1747.60 L2092.40,1744.70 Z" fill="#231f20" stroke="none"/>
<g transform="translate(2075.03,1747.78) rotate(-90) scale(0.06523,0.06662)"><path d="M266,-700 L266,0 L173,0 L173,-549 C130,-507 60,-469 0,-450 L0,-531 C90,-565 170,-622 221,-700 Z" transform="translate(130.0,0)" fill="#231f20" stroke="#fefefe" stroke-width="12.0"/><text x="556.2" y="0" font-size="1000" stroke="#fefefe" stroke-width="12.0">9</text></g>
<line x1="1946.5" y1="1629.5" x2="2163.3" y2="1629.5" stroke-width="1.1"/>
<line x1="1946.5" y1="1806.5" x2="2163.3" y2="1806.5" stroke-width="1.1"/>
<line x1="2164.5" y1="1629" x2="2164.5" y2="1806.3" stroke-width="1.1"/>
<path d="M2164.90,1629.00 L2170.90,1658.00 L2164.90,1655.10 L2158.90,1658.00 Z" fill="#231f20" stroke="none"/>
<path d="M2164.90,1806.30 L2158.90,1777.30 L2164.90,1780.20 L2170.90,1777.30 Z" fill="#231f20" stroke="none"/>
<g transform="translate(2159.23,1748.83) rotate(-90) scale(0.06454,0.06723)"><text x="0" y="0" font-size="1000" stroke="#fefefe" stroke-width="11.9">26</text></g>
<line x1="1894.3" y1="1591.5" x2="2330" y2="1591.5" stroke-width="1.1"/>
<line x1="1894.3" y1="1839.5" x2="2330" y2="1839.5" stroke-width="1.1"/>
<line x1="2252.5" y1="1591.7" x2="2252.5" y2="1839.2" stroke-width="1.1"/>
<path d="M2252.50,1591.70 L2258.50,1620.70 L2252.50,1617.80 L2246.50,1620.70 Z" fill="#231f20" stroke="none"/>
<path d="M2252.50,1839.20 L2246.50,1810.20 L2252.50,1813.10 L2258.50,1810.20 Z" fill="#231f20" stroke="none"/>
<g transform="translate(2246.00,1748.69) rotate(-90) scale(0.06477,0.06791)"><text x="0" y="0" font-size="1000" stroke="#fefefe" stroke-width="11.8">42</text></g>
<rect x="2309" y="1591.9" width="112.5" height="247.5" rx="56.25" stroke-width="1.4" fill="none"/>
<circle cx="2365" cy="1626.5" r="10.5" stroke-width="1.3" fill="none"/>
<circle cx="2365" cy="1803.9" r="10.5" stroke-width="1.3" fill="none"/>
<circle cx="2365" cy="1715.4" r="56.2" stroke-width="1.4" fill="none"/>
<circle cx="2365" cy="1715.4" r="47.7" stroke-width="1.4" fill="none"/>
<path d="M2357.6,1703 A14.5,14.5 0 0 0 2357.6,1728 M2373.4,1703 A14.5,14.5 0 0 1 2373.4,1728" stroke-width="1.1" fill="none"/>
<rect x="2357.6" y="1687.8" width="15.80" height="55.70" stroke-width="1.4" fill="none"/>
<line x1="2309.5" y1="1524" x2="2309.5" y2="1613.4" stroke-width="1.1"/>
<line x1="2421.5" y1="1524" x2="2421.5" y2="1613.4" stroke-width="1.1"/>
<line x1="2309" y1="1531.5" x2="2421.5" y2="1531.5" stroke-width="1.1"/>
<path d="M2309.00,1531.40 L2338.00,1525.40 L2335.10,1531.40 L2338.00,1537.40 Z" fill="#231f20" stroke="none"/>
<path d="M2421.50,1531.40 L2392.50,1537.40 L2395.40,1531.40 L2392.50,1525.40 Z" fill="#231f20" stroke="none"/>
<g transform="translate(2338.38,1525.14) scale(0.06246,0.06610)"><text x="0" y="0" font-size="1000" stroke="#fefefe" stroke-width="12.1">20</text></g>
<line x1="2370.8" y1="1627.5" x2="2514" y2="1627.5" stroke-width="1.1"/>
<line x1="2370.8" y1="1804.5" x2="2514" y2="1804.5" stroke-width="1.1"/>
<line x1="2510.5" y1="1627.3" x2="2510.5" y2="1804.4" stroke-width="1.1"/>
<path d="M2510.00,1627.30 L2516.00,1656.70 L2510.00,1653.76 L2504.00,1656.70 Z" fill="#231f20" stroke="none"/>
<path d="M2510.00,1804.40 L2504.00,1775.00 L2510.00,1777.94 L2516.00,1775.00 Z" fill="#231f20" stroke="none"/>
<g transform="translate(2504.54,1734.37) rotate(-90) scale(0.06230,0.06610)"><text x="0" y="0" font-size="1000" stroke="#fefefe" stroke-width="12.1">32</text></g>
</svg></body></html>
